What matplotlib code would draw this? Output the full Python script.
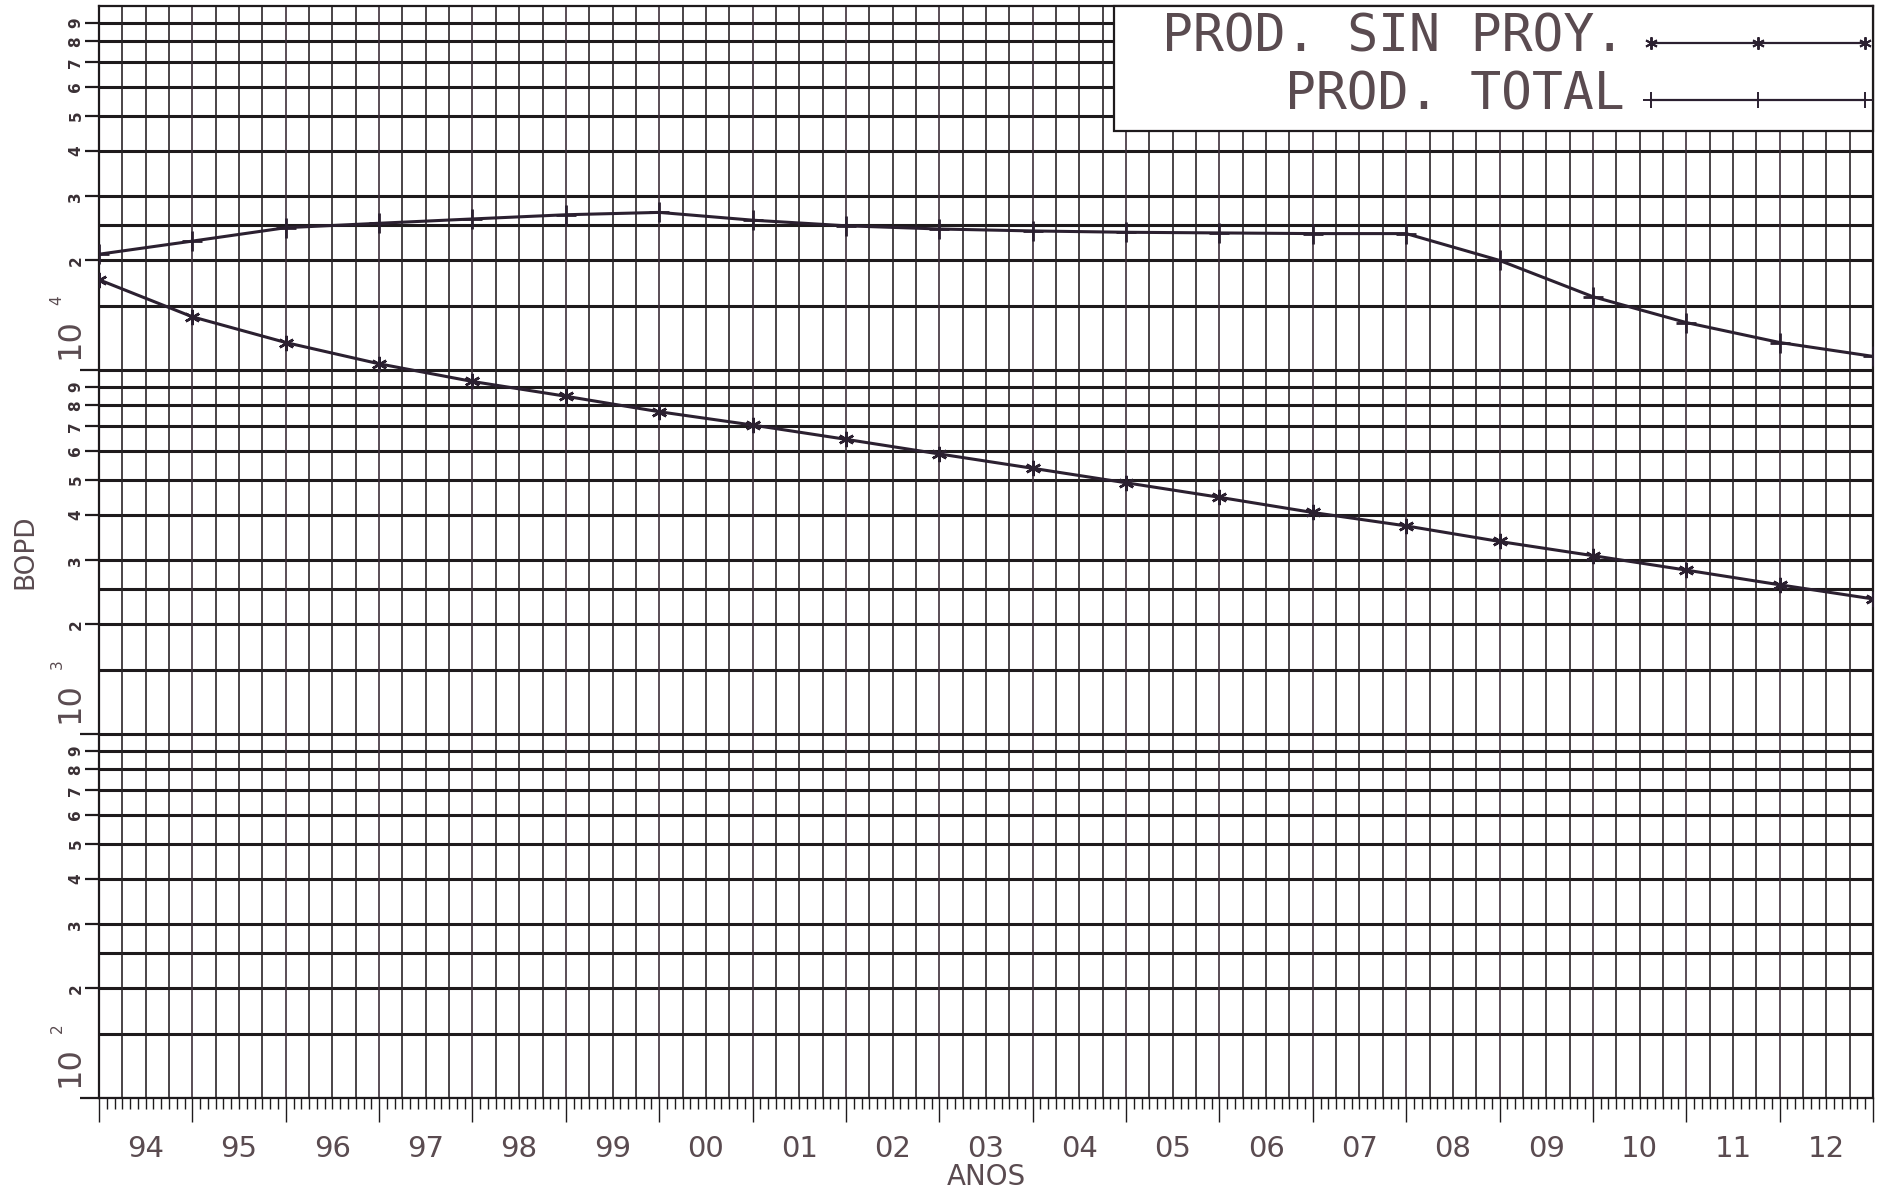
import matplotlib
matplotlib.use("Agg")
import matplotlib.pyplot as plt
from matplotlib.patches import Rectangle
from matplotlib.lines import Line2D

# data (value at start of each year, last = end of 2012)
years = [1994, 1995, 1996, 1997, 1998, 1999, 2000, 2001, 2002, 2003,
         2004, 2005, 2006, 2007, 2008, 2009, 2010, 2011, 2012, 2013]
year_labels = ['94', '95', '96', '97', '98', '99', '00', '01', '02', '03',
               '04', '05', '06', '07', '08', '09', '10', '11', '12']
prod_total = [20800, 22600, 24600, 25300, 26000, 26700, 27100, 25800, 24900, 24400,
              24100, 23900, 23800, 23700, 23700, 20000, 15900, 13500, 11900, 10900]
prod_sin_proy = [17700, 14000, 11900, 10400, 9300, 8470, 7680, 7060, 6450, 5880,
                 5370, 4900, 4470, 4060, 3730, 3380, 3090, 2820, 2570, 2350]
decades = [100, 1000, 10000]
labeled_mult = [2, 3, 4, 5, 6, 7, 8, 9]
grid_mult = [1, 1.5, 2, 2.5, 3, 4, 5, 6, 7, 8, 9]

TXT = '#5a4b50'
INK = '#1e1a1c'
CURVE = '#2b2030'

W, H = 1883, 1192
fig = plt.figure(figsize=(W / 100, H / 100), dpi=100)
ax = fig.add_axes([99 / W, (H - 1098) / H, (1873 - 99) / W, (1098 - 6) / H])

ax.set_yscale('log')
ax.set_xlim(years[0], years[-1])
ax.set_ylim(100, 100000)

# grid: horizontal log lines, vertical quarter lines
for d in decades:
    for m in grid_mult:
        ax.axhline(m * d, color=INK, lw=2.2, zorder=1)
for y in years[:-1]:
    for q in range(4):
        ax.axvline(y + q * 0.25, color='#2a2428' if q else '#3d2f3a', lw=1.2, zorder=1)

# ticks
ax.set_yticks(decades)
ax.set_yticks([m * d for d in decades for m in labeled_mult], minor=True)
ax.tick_params(axis='y', which='major', length=14, width=1.6, color=INK, labelleft=False)
ax.tick_params(axis='y', which='minor', length=10, width=1.6, color=INK, labelleft=False)
ax.set_xticks(years)
ax.set_xticks([y + k / 12 for y in years[:-1] for k in range(1, 12)], minor=True)
ax.tick_params(axis='x', which='major', length=17, width=1.0, color=INK, labelbottom=False)
ax.tick_params(axis='x', which='minor', length=8, width=1.0, color=INK, labelbottom=False)
for s in ax.spines.values():
    s.set_color(INK)
    s.set_linewidth(1.6)

# curves
ax.plot(years, prod_total, color=CURVE, lw=2.2, marker='+', ms=15, mew=2.0, zorder=3)
ax.plot(years, prod_sin_proy, color=CURVE, lw=2.2, marker=(6, 2, 0), ms=11, mew=1.8, zorder=3)

# y labels
for d in decades:
    for m in labeled_mult:
        ax.annotate(str(m), xy=(0, m * d), xycoords=('axes fraction', 'data'),
                    xytext=(-23, 0), textcoords='offset pixels', rotation=90,
                    ha='center', va='center', fontsize=11, fontweight='bold', color='#3a3035')
    ax.annotate('10', xy=(0, d), xycoords=('axes fraction', 'data'),
                xytext=(-29, 31), textcoords='offset pixels', rotation=90,
                ha='center', va='center', fontsize=23, color=TXT)
    ax.annotate(str(len(str(d)) - 1), xy=(0, d), xycoords=('axes fraction', 'data'),
                xytext=(-42, 70), textcoords='offset pixels', rotation=90,
                ha='center', va='center', fontsize=11, color=TXT)

ax.annotate('BOPD', xy=(0, 0.5), xycoords='axes fraction', xytext=(-74, 0),
            textcoords='offset pixels', rotation=90, ha='center', va='center',
            fontsize=19, color=TXT)

# x labels
for y, lab in zip(years, year_labels):
    ax.annotate(lab, xy=(y + 0.5, 0), xycoords=('data', 'axes fraction'),
                xytext=(0, -37), textcoords='offset pixels', ha='center', va='top',
                fontsize=21, color=TXT)
ax.annotate('ANOS', xy=(0.5, 0), xycoords='axes fraction', xytext=(0, -65),
            textcoords='offset pixels', ha='center', va='top', fontsize=20, color=TXT)

# legend box
ax.add_patch(Rectangle((0.572, 0.8855), 0.428, 0.1145, transform=ax.transAxes,
                       fc='white', ec=INK, lw=1.6, zorder=5, clip_on=False))
lfont = ['DejaVu Sans Mono']
ax.text(0.8602, 0.9579, 'PROD. SIN PROY.', transform=ax.transAxes, ha='right',
        va='baseline', fontsize=37, family=lfont, color=TXT, zorder=6)
ax.text(0.8602, 0.9048, 'PROD. TOTAL', transform=ax.transAxes, ha='right',
        va='baseline', fontsize=37, family=lfont, color=TXT, zorder=6)
ax.add_line(Line2D([0.8749, 0.9352, 0.9955], [0.9661, 0.9661, 0.9661],
                   transform=ax.transAxes, color=CURVE, lw=1.6, marker=(6, 2, 0),
                   ms=9, mew=1.4, zorder=6, clip_on=False))
ax.add_line(Line2D([0.8749, 0.9352, 0.9955], [0.9139, 0.9139, 0.9139],
                   transform=ax.transAxes, color=CURVE, lw=1.6, marker='+',
                   ms=12, mew=1.4, zorder=6, clip_on=False))

fig.savefig('out.png', dpi=100, facecolor='white')
